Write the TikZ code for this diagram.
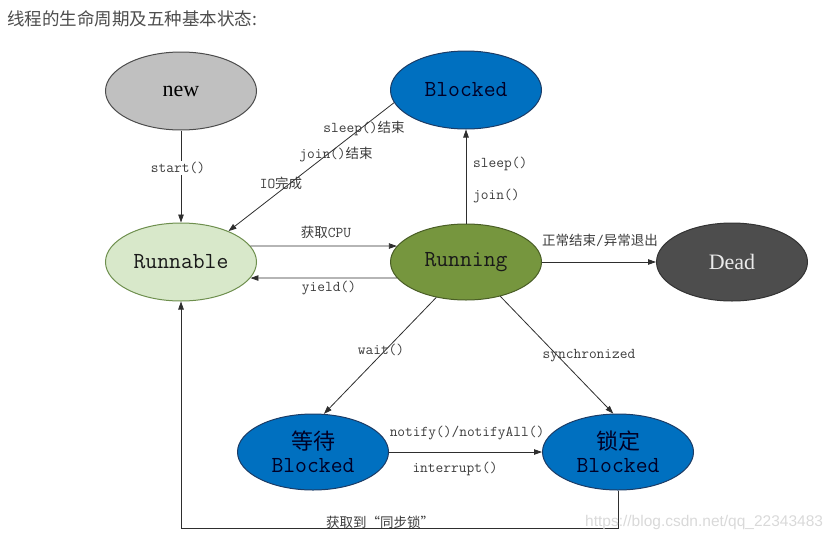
\documentclass[tikz,border=0pt]{standalone}
\usepackage{fontspec}
\setmainfont{Liberation Serif}
\newfontfamily\cjk{Noto Sans CJK SC}
\newfontfamily\wmf{Liberation Sans}
\usetikzlibrary{arrows.meta,shapes.geometric}
\newcommand{\zh}[1]{{\cjk\fontsize{13.5}{15}\selectfont #1}}
\definecolor{linec}{HTML}{2E2E2E}
\definecolor{labc}{HTML}{3C3C3C}
\definecolor{newfill}{HTML}{C0C0C0}
\definecolor{blkfill}{HTML}{0070C0}
\definecolor{blkdraw}{HTML}{1C3C66}
\definecolor{rnbfill}{HTML}{D8E8CA}
\definecolor{rnbdraw}{HTML}{6E8F4E}
\definecolor{rngfill}{HTML}{76963E}
\definecolor{rngdraw}{HTML}{4A5E26}
\definecolor{deadfill}{HTML}{4D4D4D}
\definecolor{titlec}{HTML}{4D4D4D}
\begin{document}
\begin{tikzpicture}[x=1pt,y=-1pt,
  st/.style={ellipse,draw,line width=1pt,minimum width=151pt,minimum height=78pt,inner sep=0pt,align=center},
  arr/.style={draw=linec,line width=0.8pt,-{Triangle[length=8pt,width=5.5pt]}},
  lab/.style={text=labc,font=\ttfamily\fontsize{15}{17}\selectfont,inner sep=1pt},
  nm/.style={font=\ttfamily\fontsize{23}{26}\selectfont}]
\useasboundingbox (0,0) rectangle (838,541);
\node[anchor=west,text=titlec,font=\cjk\fontsize{17.5}{20}\selectfont,inner sep=0pt] (title) at (7,19) {线程的生命周期及五种基本状态:};
% states
\node[st,fill=newfill,draw=black!70,font=\fontsize{22}{24}\selectfont] (new) at (181,91) {new};
\node[st,fill=blkfill,draw=blkdraw,nm,text=black!85!blue] (blk) at (466,90) {Blocked};
\node[st,fill=rnbfill,draw=rnbdraw,nm,text=black!90] (rnb) at (181,262) {Runnable};
\node[st,fill=rngfill,draw=rngdraw,nm,text=black!90,minimum height=76pt] (rng) at (466,262) {Running};
\node[st,fill=deadfill,draw=black!80,text=white!92!black,font=\fontsize{22}{24}\selectfont] (dead) at (732,262) {Dead};
\node[st,fill=blkfill,draw=blkdraw,nm,text=black!85!blue,minimum height=76pt] (wait) at (313,452) {{\cjk\fontsize{22}{24}\selectfont 等待}\\[-3pt]Blocked};
\node[st,fill=blkfill,draw=blkdraw,nm,text=black!85!blue,minimum height=76pt] (lock) at (618,452) {{\cjk\fontsize{22}{24}\selectfont 锁定}\\[-3pt]Blocked};
% connectors
\draw[arr] (new) -- (rnb);
\draw[arr] (blk.190) -- (rnb.33);
\draw[arr] (rng) -- (blk);
\draw[arr] (rnb.13) -- (rng.167);
\draw[arr] (rng.193) -- (rnb.347);
\draw[arr] (rng) -- (dead);
\draw[arr] (rng.230) -- (wait.74);
\draw[arr] (rng.315) -- (lock.97);
\draw[arr] (wait) -- (lock);
\coordinate (low) at (0,528);
\draw[arr] (lock.south) |- (rnb.south |- low) -- (rnb.south);
% labels
\node[lab,fill=white] (lstart) at (178,168) {start()};
\node[lab] (lsleep) at (364,128) {sleep()\zh{结束}};
\node[lab] (ljoin) at (336,155) {join()\zh{结束}};
\node[lab] (lio) at (281,183) {IO\zh{完成}};
\node[lab,anchor=west] (lsleep2) at (472,164) {sleep()};
\node[lab,anchor=west] (ljoin2) at (472,196) {join()};
\node[lab] (lcpu) at (326,232) {\zh{获取}CPU};
\node[lab] (lyield) at (329,288) {yield()};
\node[lab] (ldead) at (600,240) {\zh{正常结束}/\zh{异常退出}};
\node[lab] (lwait) at (381,350) {wait()};
\node[lab] (lsync) at (589,356) {synchronized};
\node[lab] (lnotify) at (467,433) {notify()/notifyAll()};
\node[lab] (lint) at (455,469) {interrupt()};
\node[lab] (lgot) at (380,522) {\zh{获取到“同步锁”}};
\node[anchor=west,text=black!15,font=\wmf\fontsize{15.5}{18}\selectfont,inner sep=0pt] (wm) at (585,522) {https://blog.csdn.net/qq\_22343483};
\end{tikzpicture}
\end{document}
